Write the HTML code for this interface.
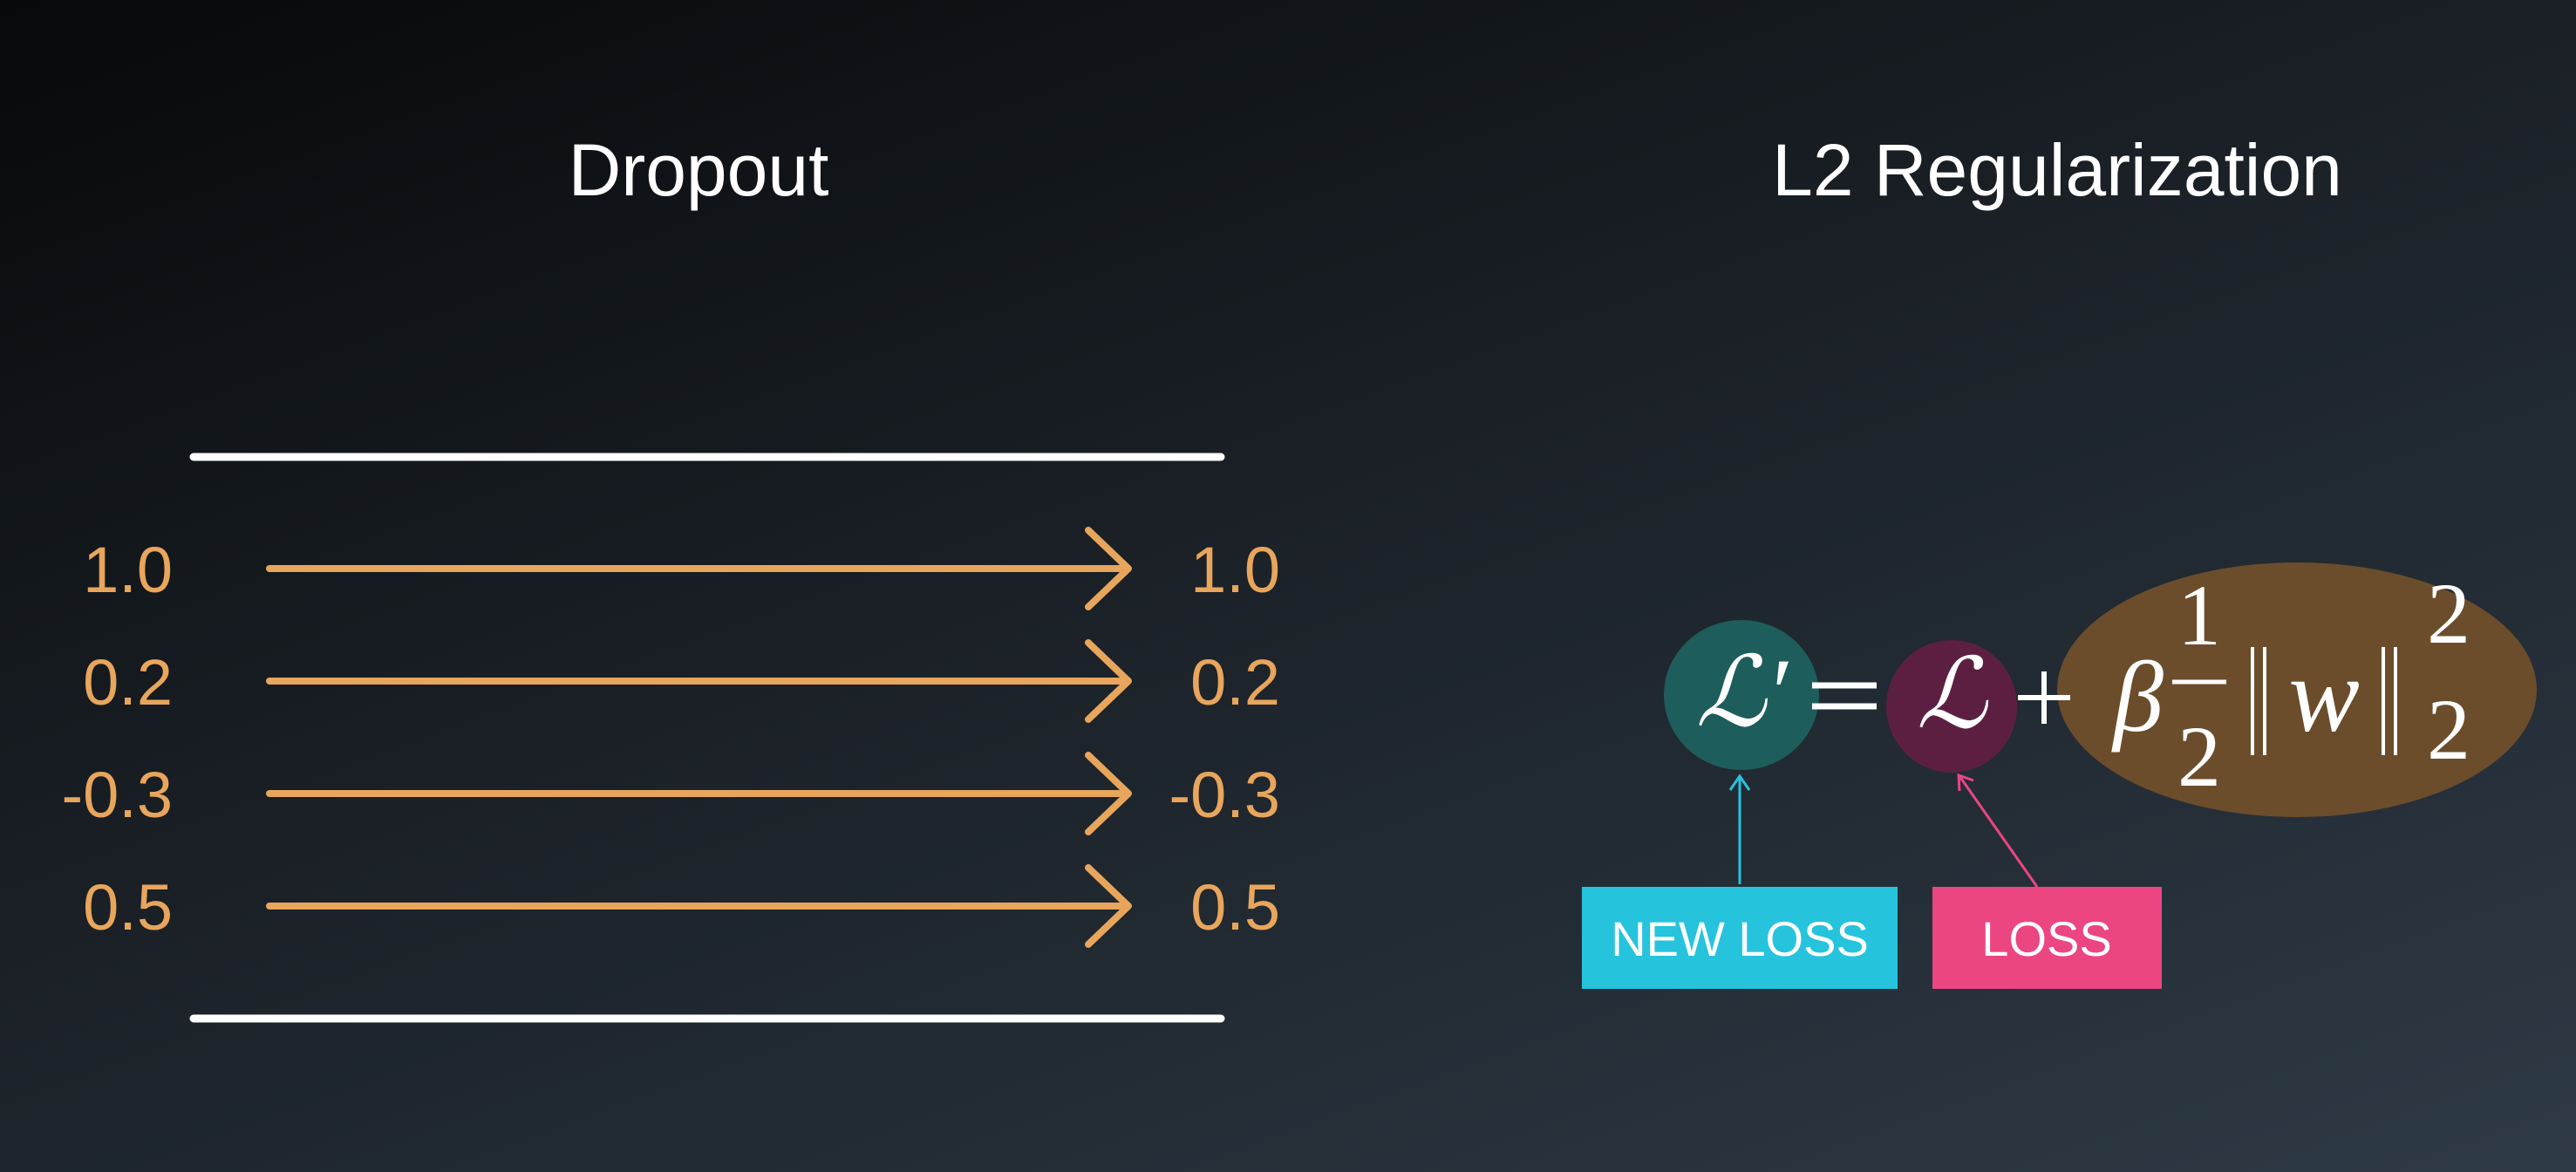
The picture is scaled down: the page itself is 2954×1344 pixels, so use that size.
<!DOCTYPE html>
<html><head><meta charset="utf-8"><style>
html,body{margin:0;padding:0;}
body{width:2954px;height:1344px;overflow:hidden;background:linear-gradient(160deg,#07090b 0%,#1a2026 45%,#2e3a46 100%);}
svg{display:block}
</style></head><body>
<svg id="s" width="2954" height="1344" viewBox="0 0 2954 1344">
<text x="801" y="224" font-family="Liberation Sans, sans-serif" font-size="84" fill="#fff" text-anchor="middle">Dropout</text>
<text x="2359" y="224" font-family="Liberation Sans, sans-serif" font-size="84" fill="#fff" text-anchor="middle">L2 Regularization</text>
<line x1="222" y1="524" x2="1400" y2="524" stroke="#fff" stroke-width="9" stroke-linecap="round"/>
<line x1="222" y1="1168" x2="1400" y2="1168" stroke="#fff" stroke-width="9" stroke-linecap="round"/>
<g id="arrows"></g>
<ellipse cx="1997" cy="797" rx="89" ry="86" fill="#1d5d5b"/>
<ellipse cx="2238" cy="810" rx="75" ry="76" fill="#5c1f42"/>
<ellipse cx="2634" cy="791" rx="275" ry="146" fill="#6b4d2c"/>
<g font-family="Liberation Serif, serif" fill="#fff">
<text x="1997" y="832" font-size="112" font-style="italic" text-anchor="middle">ℒ′</text>
<g stroke="#fff" stroke-width="7"><line x1="2078" y1="786" x2="2152" y2="786"/><line x1="2078" y1="810" x2="2152" y2="810"/></g>
<text x="2238" y="834" font-size="112" font-style="italic" text-anchor="middle">ℒ</text>
<g stroke="#fff" stroke-width="6"><line x1="2314" y1="800" x2="2374" y2="800"/><line x1="2344" y1="770" x2="2344" y2="830"/></g>
<text x="2452" y="838" font-size="116" font-style="italic" text-anchor="middle">β</text>
<text x="2522" y="739" font-size="100" text-anchor="middle">1</text>
<line x1="2491" y1="782" x2="2553" y2="782" stroke="#fff" stroke-width="5"/>
<text x="2522" y="901" font-size="100" text-anchor="middle">2</text>
<g stroke="#fff" stroke-width="4">
<line x1="2583" y1="742" x2="2583" y2="866"/><line x1="2597" y1="742" x2="2597" y2="866"/>
<line x1="2733" y1="742" x2="2733" y2="866"/><line x1="2747" y1="742" x2="2747" y2="866"/></g>
<text x="2665" y="838" font-size="122" font-style="italic" text-anchor="middle">w</text>
<text x="2808" y="737" font-size="100" text-anchor="middle">2</text>
<text x="2808" y="870" font-size="100" text-anchor="middle">2</text>
</g>
<line x1="1995" y1="1014" x2="1995" y2="892" stroke="#27c3dd" stroke-width="3"/>
<polyline points="1984,906 1995,890 2006,906" fill="none" stroke="#27c3dd" stroke-width="3"/>
<line x1="2336" y1="1017" x2="2247" y2="890" stroke="#eb4682" stroke-width="3"/>
<polyline points="2247,907 2246,889 2263,895" fill="none" stroke="#eb4682" stroke-width="3"/>
<rect x="1814" y="1017" width="362" height="117" fill="#26c3dd"/>
<text x="1995" y="1096" font-family="Liberation Sans, sans-serif" font-size="56" fill="#fff" text-anchor="middle">NEW LOSS</text>
<rect x="2216" y="1017" width="263" height="117" fill="#eb4682"/>
<text x="2347" y="1096" font-family="Liberation Sans, sans-serif" font-size="56" fill="#fff" text-anchor="middle">LOSS</text>
</svg>
<script>
const inputValues = ["1.0","0.2","-0.3","0.5"];
const outputValues = ["1.0","0.2","-0.3","0.5"];
const NS="http://www.w3.org/2000/svg";
const g=document.getElementById('arrows');
const rowY=i=>652+i*129;
const col="#e8a55c";
inputValues.forEach((v,i)=>{
  const y=rowY(i);
  const t=document.createElementNS(NS,'text');
  t.setAttribute('x',198);t.setAttribute('y',y+27);
  t.setAttribute('font-family','Liberation Sans, sans-serif');t.setAttribute('font-size','74');
  t.setAttribute('fill',col);t.setAttribute('text-anchor','end');
  
  
  t.textContent=v;g.appendChild(t);
  const l=document.createElementNS(NS,'line');
  l.setAttribute('x1',309);l.setAttribute('x2',1292);l.setAttribute('y1',y);l.setAttribute('y2',y);
  l.setAttribute('stroke',col);l.setAttribute('stroke-width',8);l.setAttribute('stroke-linecap','round');
  
  
  g.appendChild(l);
  const h=document.createElementNS(NS,'polyline');
  h.setAttribute('points',`1248,${y-44} 1294,${y} 1248,${y+44}`);
  h.setAttribute('fill','none');h.setAttribute('stroke',col);h.setAttribute('stroke-width',8);
  h.setAttribute('stroke-linecap','round');h.setAttribute('stroke-linejoin','round');
  
  
  g.appendChild(h);
  const r=document.createElementNS(NS,'text');
  r.setAttribute('x',1468);r.setAttribute('y',y+27);
  r.setAttribute('font-family','Liberation Sans, sans-serif');r.setAttribute('font-size','74');
  r.setAttribute('fill',col);r.setAttribute('text-anchor','end');
  
  
  r.textContent=outputValues[i];g.appendChild(r);
});
</script>
</body></html>
